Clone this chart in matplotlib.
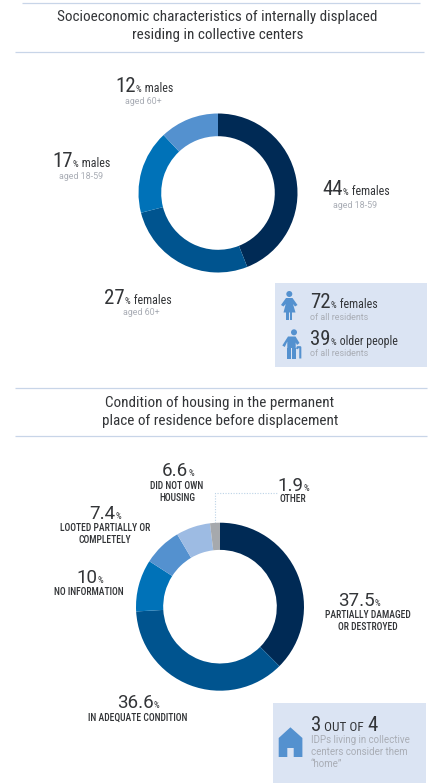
import matplotlib
matplotlib.use("Agg")
import matplotlib.pyplot as plt
from matplotlib import font_manager as fm
from matplotlib.patches import Rectangle, Polygon, Circle

W, H = 430, 783

# Age and sex breakdown
demo_values = [44, 27, 17, 12]
demo_colors = ["#002a55", "#00548f", "#0072b8", "#5491cf"]

# Housing condition before displacement
housing_values = [37.5, 36.6, 10, 7.4, 6.6, 1.9]
housing_colors = ["#002a55", "#00548f", "#0072b8", "#5491cf", "#9dbbe3", "#a6a9ad"]

title_one = ["Socioeconomic characteristics of internally displaced",
             "residing in collective centers"]
title_two = ["Condition of housing in the permanent",
             "place of residence before displacement"]

names = {f.name for f in fm.fontManager.ttflist}
NARROW = next((n for n in ("Roboto Condensed", "Barlow Semi Condensed",
                           "Archivo Narrow", "Liberation Sans Narrow", "Roboto")
               if n in names), "Roboto")
REG = "Roboto"
DARK = "#333538"
GREY = "#a9adb5"
RULE = "#c8d5e8"
PANEL = "#dbe4f3"
ICON = "#5491cf"

fig = plt.figure(figsize=(W / 100, H / 100), dpi=100, facecolor="white")
bg = fig.add_axes([0, 0, 1, 1])
bg.set_xlim(0, W)
bg.set_ylim(H, 0)
bg.axis("off")


def donut(values, colors, cx, cy, r, inner):
    ax = fig.add_axes([(cx - r) / W, 1 - (cy + r) / H, 2 * r / W, 2 * r / H])
    ax.pie(values, colors=colors, startangle=90, counterclock=False, radius=1,
           wedgeprops=dict(width=1 - inner / r, linewidth=0))
    ax.set_xlim(-1, 1)
    ax.set_ylim(-1, 1)
    ax.set_aspect("equal")
    ax.axis("off")


def runs(x, y, parts):
    """Lay text pieces out left to right on one baseline."""
    rend = fig.canvas.get_renderer()
    for txt, size, font, col in parts:
        t = bg.text(x, y, txt, fontsize=size, family=font, color=col,
                    ha="left", va="baseline")
        x = bg.transData.inverted().transform(
            (t.get_window_extent(rend).x1, 0))[0] + 0.2


def stat(x, y, num, rest="", size=15, font=NARROW):
    parts = [(num, size, font, DARK), ("%", 6.4, NARROW, DARK)]
    if rest:
        parts.append((rest, 8.6, NARROW, DARK))
    runs(x, y, parts)


def sub(cx, y, txt, col=GREY, size=6.4, ha="center"):
    bg.text(cx, y, txt, fontsize=size, family=REG, color=col,
            ha=ha, va="center")


def caps(cx, y, txt):
    bg.text(cx, y, txt, fontsize=6.9, family=NARROW, color=DARK, fontweight="medium",
            ha="center", va="center")


# Section rules
for x0, x1, y in [(22, 420, 2.5), (15, 424, 51.5), (15, 427, 388), (15, 427, 435.5)]:
    bg.plot([x0, x1], [y, y], color=RULE, lw=0.9, solid_capstyle="butt")

# Section headings
for cx, ys, lines in [(217.5, (17, 35), title_one), (220, (403, 421), title_two)]:
    for y, line in zip(ys, lines):
        bg.text(cx, y, line, fontsize=10.9, family=NARROW, color=DARK,
                ha="center", va="center")

# Side panels
bg.add_patch(Rectangle((274.5, 283), 152, 84, fc=PANEL, ec="none"))
bg.add_patch(Rectangle((273, 702.5), 153, 80.5, fc=PANEL, ec="none"))

# Upper chart
donut(demo_values, demo_colors, 218, 193, 79.5, 56.8)
stat(115, 92.5, "12", " males")
sub(143, 101.7, "aged 60+")
stat(52, 167, "17", " males")
sub(81, 176.7, "aged 18-59")
stat(322, 195, "44", " females")
sub(355, 205, "aged 18-59")
stat(104, 304, "27", " females")
sub(141, 312.5, "aged 60+")

# Panel figures: woman and older person
bg.add_patch(Circle((289.3, 294), 3.0, fc=ICON, ec="none"))
bg.add_patch(Polygon([(286, 298), (292.5, 298), (297.5, 305), (295, 306.5),
                      (293, 304), (295.5, 312.5), (283.5, 312.5), (285.7, 304),
                      (283.5, 306.5), (281, 305)], fc=ICON, ec="none"))
bg.add_patch(Rectangle((286.4, 312), 2.6, 8, fc=ICON, ec="none"))
bg.add_patch(Rectangle((289.8, 312), 2.6, 8, fc=ICON, ec="none"))

bg.add_patch(Circle((294, 332.3), 3.0, fc=ICON, ec="none"))
bg.add_patch(Polygon([(288, 336.5), (295.5, 336.5), (299.5, 343), (297, 345),
                      (295.7, 342.5), (295.7, 348), (287.3, 348), (287.3, 341.5),
                      (284.8, 347), (282.3, 345.5)], fc=ICON, ec="none"))
bg.add_patch(Rectangle((287.3, 348), 3.8, 10.5, fc=ICON, ec="none"))
bg.add_patch(Rectangle((292, 348), 3.7, 10.5, fc=ICON, ec="none"))
bg.plot([297, 297.6, 300.3, 300.3], [349, 347.2, 347.2, 358.5], color=ICON, lw=1.5,
        solid_capstyle="butt")

stat(310, 308, "72", " females")
sub(310, 317.7, "of all residents", ha="left")
stat(310, 345, "39", " older people")
sub(310, 354, "of all residents", ha="left")

# Lower chart
donut(housing_values, housing_colors, 220, 606.7, 84, 56.8)
bg.plot([215.3, 215.3, 277], [522.5, 492.7, 492.7], color="#bcd3e6", lw=0.8,
        ls=(0, (1, 1.4)))
stat(162, 476, "6.6", size=13.5, font=REG)
caps(177, 485.7, "DID NOT OWN")
caps(177, 497.7, "HOUSING")
stat(277, 490.7, "1.9", size=13.5, font=REG)
caps(292.7, 498.7, "OTHER")
stat(89, 519, "7.4", size=13.5, font=REG)
caps(104.7, 527.7, "LOOTED PARTIALLY OR")
caps(104.7, 540.3, "COMPLETELY")
stat(76.7, 583, "10", size=13.5, font=REG)
caps(89, 592, "NO INFORMATION")
stat(338, 605.7, "37.5", size=13.5, font=REG)
caps(368, 615.5, "PARTIALLY DAMAGED")
caps(368, 627, "OR DESTROYED")
stat(117, 708, "36.6", size=13.5, font=REG)
caps(137.7, 718, "IN ADEQUATE CONDITION")

# House symbol and note
bg.add_patch(Polygon([(290.4, 727.3), (302.4, 738), (302.4, 757), (293.7, 757),
                      (293.7, 748), (287.3, 748), (287.3, 757), (278.7, 757),
                      (278.7, 738)], fc=ICON, ec="none"))
runs(310.7, 730.7, [("3", 15, NARROW, DARK), (" OUT OF ", 9.5, NARROW, DARK),
                    ("4", 15, NARROW, DARK)])
for y, line in zip((740, 751.7, 764),
                   ("IDPs living in collective", "centers consider them", "\u201chome\u201d")):
    sub(310.7, y, line, size=7.0, ha="left")

fig.savefig("out.png", dpi=100, facecolor="white")
